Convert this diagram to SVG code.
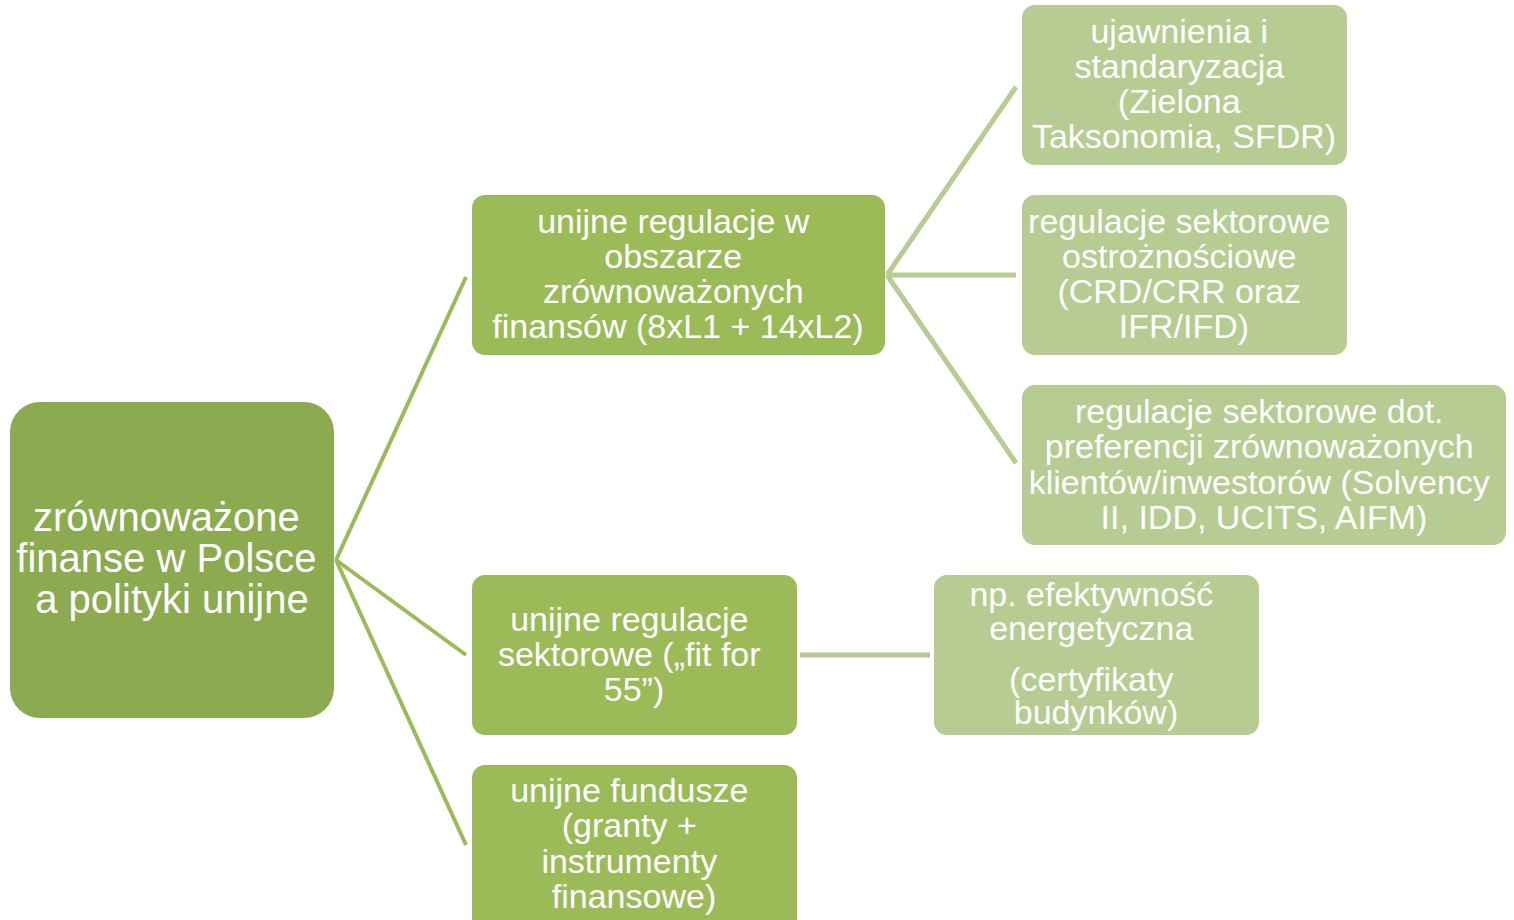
<svg xmlns="http://www.w3.org/2000/svg" width="1514" height="920" viewBox="0 0 1514 920">
  <style>
    .root { fill: #8CAA50; }
    .l1 { fill: #9BBB59; }
    .l2 { fill: #B6CC92; }
    .lbl { font-family: "Liberation Sans", Arial, sans-serif; font-size: 34px; fill: #FFFFFF; text-anchor: middle; }
    .big { font-size: 40px; }
    .c1 { stroke: #9BBB59; stroke-width: 4; fill: none; }
    .c2 { stroke: #B6CC92; stroke-width: 5; fill: none; }
  </style>
  <rect width="1514" height="920" fill="#FFFFFF"/>

  <!-- connectors -->
  <g id="connectors">
    <path class="c1" d="M336 560 L466 277"/>
    <path class="c1" d="M336 560 L466 655"/>
    <path class="c1" d="M336 560 L466 845"/>
    <path class="c2" d="M887 275 L1016 87"/>
    <path class="c2" d="M887 275 L1016 275"/>
    <path class="c2" d="M887 275 L1016 463"/>
    <path class="c2" d="M800 655 L930 655"/>
  </g>

  <g id="root">
    <rect class="root" x="10" y="402" width="324" height="316" rx="30"/>
    <text class="lbl big">
      <tspan x="172" y="531">zrównoważone</tspan>
      <tspan x="172" y="572">finanse w Polsce</tspan>
      <tspan x="172" y="613">a polityki unijne</tspan>
    </text>
  </g>

  <g id="eu-regulations">
    <rect class="l1" x="472" y="195" width="413" height="160" rx="13"/>
    <text class="lbl">
      <tspan x="678" y="233">unijne regulacje w</tspan>
      <tspan x="678" y="268">obszarze</tspan>
      <tspan x="678" y="303">zrównoważonych</tspan>
      <tspan x="678" y="338">finansów (8xL1 + 14xL2)</tspan>
    </text>
  </g>

  <g id="sector-regulations">
    <rect class="l1" x="472" y="575" width="325" height="160" rx="13"/>
    <text class="lbl">
      <tspan x="634" y="631">unijne regulacje</tspan>
      <tspan x="634" y="666">sektorowe („fit for</tspan>
      <tspan x="634" y="701">55”)</tspan>
    </text>
  </g>

  <g id="eu-funds">
    <rect class="l1" x="472" y="765" width="325" height="175" rx="13"/>
    <text class="lbl">
      <tspan x="634" y="802">unijne fundusze</tspan>
      <tspan x="634" y="837">(granty +</tspan>
      <tspan x="634" y="873">instrumenty</tspan>
      <tspan x="634" y="908">finansowe)</tspan>
    </text>
  </g>

  <g id="disclosures">
    <rect class="l2" x="1022" y="5" width="325" height="160" rx="13"/>
    <text class="lbl">
      <tspan x="1184" y="43">ujawnienia i</tspan>
      <tspan x="1184" y="78">standaryzacja</tspan>
      <tspan x="1184" y="113">(Zielona</tspan>
      <tspan x="1184" y="148">Taksonomia, SFDR)</tspan>
    </text>
  </g>

  <g id="prudential">
    <rect class="l2" x="1022" y="195" width="325" height="160" rx="13"/>
    <text class="lbl">
      <tspan x="1184" y="233">regulacje sektorowe</tspan>
      <tspan x="1184" y="268">ostrożnościowe</tspan>
      <tspan x="1184" y="303">(CRD/CRR oraz</tspan>
      <tspan x="1184" y="338">IFR/IFD)</tspan>
    </text>
  </g>

  <g id="preferences">
    <rect class="l2" x="1022" y="385" width="484" height="160" rx="13"/>
    <text class="lbl">
      <tspan x="1264" y="423">regulacje sektorowe dot.</tspan>
      <tspan x="1264" y="458">preferencji zrównoważonych</tspan>
      <tspan x="1264" y="494">klientów/inwestorów (Solvency</tspan>
      <tspan x="1264" y="529">II, IDD, UCITS, AIFM)</tspan>
    </text>
  </g>

  <g id="energy-efficiency">
    <rect class="l2" x="934" y="575" width="325" height="160" rx="13"/>
    <text class="lbl">
      <tspan x="1096" y="606">np. efektywność</tspan>
      <tspan x="1096" y="640">energetyczna</tspan>
      <tspan x="1096" y="691">(certyfikaty</tspan>
      <tspan x="1096" y="724">budynków)</tspan>
    </text>
  </g>
</svg>
